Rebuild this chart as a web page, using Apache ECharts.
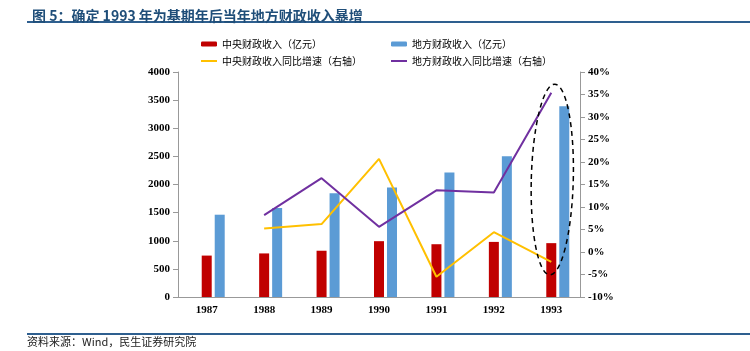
<!DOCTYPE html>
<html>
<head>
<meta charset="utf-8">
<script src="https://cdn.jsdelivr.net/npm/echarts@6/dist/echarts.min.js"></script>
<style>
  html, body { margin: 0; padding: 0; background: #fff; }
  #main { width: 750px; height: 351px; }
</style>
</head>
<body>
<div id="main"></div>
<script>
// 年份
var years = ["1987", "1988", "1989", "1990", "1991", "1992", "1993"];
// 中央 / 地方财政收入（亿元）
var centralRevenue = [736.29, 774.76, 822.52, 992.42, 938.25, 979.51, 957.51];
var localRevenue = [1463.06, 1582.48, 1842.38, 1944.68, 2211.23, 2503.86, 3391.44];
// 同比增速（%），1987 无数据
var centralGrowth = ["-", 5.2, 6.2, 20.7, -5.5, 4.4, -2.2];
var localGrowth = ["-", 8.2, 16.4, 5.6, 13.7, 13.2, 35.4];
// 占位，让红柱落在类目中间
var spacer = ["-", "-", "-", "-", "-", "-", "-"];

var axisFont = { fontFamily: "Liberation Serif", fontWeight: "bold", fontSize: 11, color: "#000" };
var legendText = { fontFamily: "Noto Sans CJK SC", fontSize: 10, color: "#000" };

var chart = echarts.init(document.getElementById("main"));

function decorations(extra) {
  var g = [
    { type: "line", shape: { x1: 27, y1: 22, x2: 750, y2: 22 }, style: { stroke: "#2E5F8F", lineWidth: 2 } },
    { type: "line", shape: { x1: 27, y1: 334, x2: 750, y2: 334 }, style: { stroke: "#2E5F8F", lineWidth: 2 } },
    {
      type: "text", left: 27, top: 336,
      style: { text: "资料来源：Wind，民生证券研究院", font: "11px 'Noto Sans CJK SC'", fill: "#222" }
    }
  ];
  return extra ? g.concat(extra) : g;
}

chart.setOption({
  animation: false,
  backgroundColor: "#fff",
  title: {
    text: "图 5：确定 1993 年为基期年后当年地方财政收入暴增",
    left: 27,
    top: 4,
    textStyle: { fontFamily: "Noto Sans CJK SC", fontWeight: "bold", fontSize: 14, color: "#1F4E79" }
  },
  graphic: decorations(),
  legend: [
    { data: ["中央财政收入（亿元）"], left: 196, top: 34, itemWidth: 16, itemHeight: 5, textStyle: legendText },
    { data: ["地方财政收入（亿元）"], left: 386, top: 34, itemWidth: 16, itemHeight: 5, textStyle: legendText },
    { data: ["中央财政收入同比增速（右轴）"], left: 196, top: 51, icon: "rect", itemWidth: 16, itemHeight: 2, textStyle: legendText },
    { data: ["地方财政收入同比增速（右轴）"], left: 386, top: 51, icon: "rect", itemWidth: 16, itemHeight: 2, textStyle: legendText }
  ],
  grid: { left: 178, right: 170, top: 72, bottom: 54 },
  xAxis: {
    type: "category",
    data: years,
    axisLine: { lineStyle: { color: "#999" } },
    axisTick: { lineStyle: { color: "#999" } },
    axisLabel: Object.assign({ margin: 8 }, axisFont)
  },
  yAxis: [
    {
      type: "value", min: 0, max: 4000, interval: 500,
      splitLine: { show: false },
      axisLine: { show: true, lineStyle: { color: "#999" } },
      axisTick: { show: true, lineStyle: { color: "#999" } },
      axisLabel: Object.assign({ formatter: function (v) { return String(v); } }, axisFont)
    },
    {
      type: "value", min: -10, max: 40, interval: 5,
      splitLine: { show: false },
      axisLine: { show: true, lineStyle: { color: "#999" } },
      axisTick: { show: true, lineStyle: { color: "#999" } },
      axisLabel: Object.assign({ formatter: "{value}%" }, axisFont)
    }
  ],
  series: [
    { name: "spacer", type: "bar", data: spacer, barWidth: 10, barGap: "30%", silent: true },
    { name: "中央财政收入（亿元）", type: "bar", data: centralRevenue, barWidth: 10, barGap: "30%", itemStyle: { color: "#C00000" } },
    { name: "地方财政收入（亿元）", type: "bar", data: localRevenue, barWidth: 10, barGap: "30%", itemStyle: { color: "#5B9BD5" } },
    {
      name: "中央财政收入同比增速（右轴）", type: "line", yAxisIndex: 1, data: centralGrowth,
      symbol: "none", lineStyle: { color: "#FFC000", width: 2 }, itemStyle: { color: "#FFC000" }
    },
    {
      name: "地方财政收入同比增速（右轴）", type: "line", yAxisIndex: 1, data: localGrowth,
      symbol: "none", lineStyle: { color: "#7030A0", width: 2 }, itemStyle: { color: "#7030A0" }
    }
  ]
});

// 1993 的虚线椭圆标注
var top93 = chart.convertToPixel({ xAxisIndex: 0, yAxisIndex: 1 }, ["1993", 37.3]);
var bot93 = chart.convertToPixel({ xAxisIndex: 0, yAxisIndex: 1 }, ["1993", -5.1]);
chart.setOption({
  graphic: decorations([
    {
      type: "ellipse",
      x: top93[0] + 1, y: (top93[1] + bot93[1]) / 2,
      rotation: -0.026,
      shape: { cx: 0, cy: 0, rx: 21, ry: (bot93[1] - top93[1]) / 2 },
      style: { fill: "none", stroke: "#000", lineWidth: 1.5, lineDash: [5, 4] },
      z: 10
    }
  ])
});
</script>
</body>
</html>
